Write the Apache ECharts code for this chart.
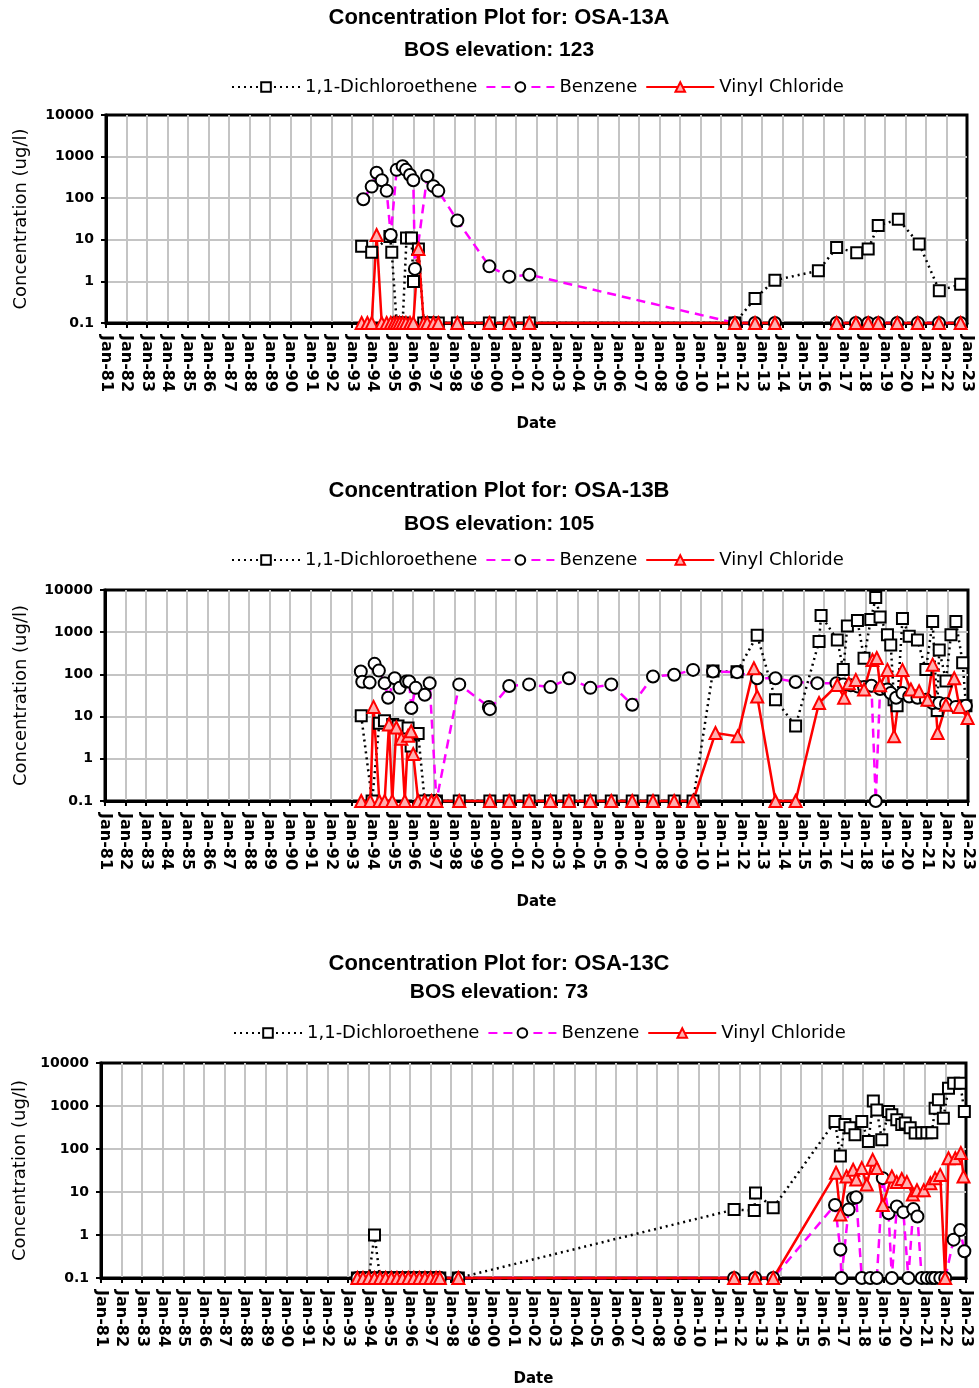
<!DOCTYPE html>
<html>
<head>
<meta charset="utf-8">
<script src="https://cdn.jsdelivr.net/npm/echarts@6/dist/echarts.min.js"></script>
<style>
  body { margin: 0; background: #fff; }
  #chart { width: 979px; height: 1388px; }
</style>
</head>
<body>
<div id="chart"></div>
<script>
// wells and elevations
const wells = ['OSA-13A', 'OSA-13B', 'OSA-13C'];
const bosElevation = [123, 105, 73];
const seriesNames = ['1,1-Dichloroethene', 'Benzene', 'Vinyl Chloride'];

// OSA-13A  [decimal year, ug/l]
const dceA = [[1993.47,7],[1993.96,5],[1994.85,12],[1994.94,5],[1995.18,0.1],[1995.32,0.1],[1995.47,0.1],[1995.66,11],[1995.9,11],[1996.0,1],[1996.24,6],[1996.5,0.1],[1996.67,0.1],[1996.97,0.1],[1997.21,0.1],[1998.14,0.1],[1999.7,0.1],[2000.67,0.1],[2001.65,0.1],[2011.68,0.1],[2012.66,0.39],[2013.63,1.07],[2015.75,1.8],[2016.64,6.5],[2017.62,4.9],[2018.18,6],[2018.67,22],[2019.65,31],[2020.67,7.9],[2021.65,0.6],[2022.69,0.85]];
const benzA = [[1993.55,94],[1993.96,190],[1994.2,410],[1994.45,270],[1994.69,150],[1994.89,13],[1995.18,480],[1995.47,590],[1995.63,480],[1995.83,360],[1995.99,270],[1996.07,2],[1996.67,340],[1996.97,195],[1997.21,150],[1998.14,29],[1999.7,2.3],[2000.67,1.3],[2001.65,1.45],[2011.68,0.1],[2012.66,0.1],[2013.63,0.1],[2015.0,null],[2016.64,0.1],[2017.58,0.1],[2018.18,0.1],[2018.67,0.1],[2019.6,0.1],[2020.6,0.1],[2021.63,0.1],[2022.69,0.1]];
const vcA = [[1993.47,0.1],[1993.75,0.1],[1993.96,0.1],[1994.2,13],[1994.45,0.1],[1994.69,0.1],[1994.89,0.1],[1995.05,0.1],[1995.18,0.1],[1995.32,0.1],[1995.47,0.1],[1995.63,0.1],[1995.83,0.1],[1995.99,0.1],[1996.24,6],[1996.5,0.1],[1996.67,0.1],[1996.97,0.1],[1997.21,0.1],[1998.14,0.1],[1999.7,0.1],[2000.67,0.1],[2001.65,0.1],[2011.68,0.1],[2012.66,0.1],[2013.63,0.1],[2015.0,null],[2016.64,0.1],[2017.58,0.1],[2018.18,0.1],[2018.67,0.1],[2019.6,0.1],[2020.6,0.1],[2021.63,0.1],[2022.69,0.1]];

// OSA-13B
const dceB = [[1993.47,10.5],[1994.0,0.1],[1994.35,7],[1994.6,8],[1995.0,6.5],[1995.26,6],[1995.75,5.4],[1995.9,2],[1996.24,4],[1996.56,0.1],[1996.89,0.1],[1997.13,0.1],[1998.24,0.1],[1999.73,0.1],[2000.67,0.1],[2001.64,0.1],[2002.68,0.1],[2003.58,0.1],[2004.62,0.1],[2005.64,0.1],[2006.66,0.1],[2007.67,0.1],[2008.7,0.1],[2009.62,0.1],[2010.59,120],[2011.76,115],[2012.74,850],[2013.63,25],[2014.61,6],[2015.75,600],[2015.85,2500],[2016.64,650],[2016.93,130],[2017.13,1400],[2017.62,1900],[2017.94,240],[2018.27,2000],[2018.51,6600],[2018.72,2300],[2019.08,870],[2019.24,500],[2019.4,25],[2019.55,18],[2019.81,2100],[2020.14,800],[2020.54,650],[2020.95,130],[2021.28,1800],[2021.5,14],[2021.6,380],[2021.93,70],[2022.17,870],[2022.41,1800],[2022.74,190],[2022.9,18]];
const benzB = [[1993.45,117],[1993.52,67],[1993.88,64],[1994.12,178],[1994.33,123],[1994.61,62],[1994.78,28],[1995.1,81],[1995.34,48],[1995.67,68],[1995.8,68],[1995.91,16],[1996.12,48],[1996.56,33],[1996.8,62],[1997.13,0.1],[1998.24,58],[1999.68,17],[1999.73,15],[2000.67,53],[2001.64,58],[2002.68,50],[2003.58,81],[2004.62,48],[2005.64,58],[2006.66,19],[2007.67,89],[2008.7,98],[2009.62,128],[2010.59,117],[2011.76,113],[2012.74,81],[2013.63,81],[2014.61,66],[2015.67,62],[2016.6,62],[2016.93,58],[2017.3,55],[2017.62,52],[2017.94,50],[2018.3,54],[2018.51,0.1],[2018.72,45],[2019.08,44],[2019.24,36],[2019.5,28],[2019.81,36],[2020.14,30],[2020.54,28],[2020.95,25],[2021.28,21],[2021.6,21],[2021.93,20],[2022.41,17],[2022.9,18]];
const vcB = [[1993.47,0.1],[1993.91,0.1],[1994.07,17],[1994.35,0.1],[1994.61,0.1],[1994.82,6.5],[1994.98,0.1],[1995.18,5.5],[1995.42,3],[1995.59,0.1],[1995.75,3.5],[1995.9,4.5],[1996.0,1.3],[1996.24,0.1],[1996.56,0.1],[1996.89,0.1],[1997.13,0.1],[1998.24,0.1],[1999.73,0.1],[2000.67,0.1],[2001.64,0.1],[2002.68,0.1],[2003.58,0.1],[2004.62,0.1],[2005.64,0.1],[2006.66,0.1],[2007.67,0.1],[2008.7,0.1],[2009.62,0.1],[2010.71,4.1],[2011.79,3.4],[2012.58,140],[2012.74,30],[2013.63,0.1],[2014.61,0.1],[2015.75,21],[2016.64,56],[2016.97,28],[2017.2,62],[2017.54,74],[2017.94,44],[2018.35,220],[2018.56,245],[2018.72,55],[2019.08,128],[2019.4,3.4],[2019.81,128],[2020.22,44],[2020.62,40],[2021.03,25],[2021.28,170],[2021.52,4.1],[2021.93,19],[2022.33,81],[2022.58,17],[2022.98,9.3]];

// OSA-13C
const dceC = [[1993.45,0.1],[1993.72,0.1],[1994.0,0.1],[1994.28,1.0],[1994.55,0.1],[1994.82,0.1],[1995.1,0.1],[1995.37,0.1],[1995.64,0.1],[1995.92,0.1],[1996.19,0.1],[1996.46,0.1],[1996.73,0.1],[1997.0,0.1],[1997.27,0.1],[1997.45,0.1],[1998.35,0.1],[2011.74,3.9],[2012.72,3.7],[2012.78,9.5],[2013.64,4.3],[2016.64,435],[2016.9,69],[2017.12,370],[2017.37,310],[2017.61,215],[2017.94,435],[2018.26,150],[2018.5,1300],[2018.67,810],[2018.91,165],[2019.24,740],[2019.4,630],[2019.64,480],[2019.88,370],[2020.05,400],[2020.29,310],[2020.53,235],[2020.85,240],[2021.1,240],[2021.34,240],[2021.5,890],[2021.66,1400],[2021.9,520],[2022.15,2600],[2022.4,3400],[2022.72,3400],[2022.92,740]];
const benzC = [[1993.45,0.1],[1993.72,0.1],[1994.0,0.1],[1994.28,0.1],[1994.55,0.1],[1994.82,0.1],[1995.1,0.1],[1995.37,0.1],[1995.64,0.1],[1995.92,0.1],[1996.19,0.1],[1996.46,0.1],[1996.73,0.1],[1997.0,0.1],[1997.27,0.1],[1997.45,0.1],[1998.35,0.1],[2011.74,0.1],[2012.76,0.1],[2013.64,0.1],[2016.64,5],[2016.9,0.46],[2016.95,0.1],[2017.3,3.9],[2017.52,7.2],[2017.67,7.5],[2017.94,0.1],[2018.35,0.1],[2018.67,0.1],[2018.96,21],[2019.24,3.2],[2019.4,0.1],[2019.64,4.6],[2019.96,3.4],[2020.2,0.1],[2020.44,4],[2020.64,2.7],[2020.85,0.1],[2021.1,0.1],[2021.34,0.1],[2021.5,0.1],[2021.75,0.1],[2021.99,0.1],[2022.4,0.78],[2022.72,1.3],[2022.92,0.42]];
const vcC = [[1993.45,0.1],[1993.72,0.1],[1994.0,0.1],[1994.28,0.1],[1994.55,0.1],[1994.82,0.1],[1995.1,0.1],[1995.37,0.1],[1995.64,0.1],[1995.92,0.1],[1996.19,0.1],[1996.46,0.1],[1996.73,0.1],[1997.0,0.1],[1997.27,0.1],[1997.45,0.1],[1998.35,0.1],[2011.74,0.1],[2012.76,0.1],[2013.64,0.1],[2016.69,28],[2016.9,3],[2017.2,23],[2017.52,33],[2017.67,19.5],[2017.94,36],[2018.18,15],[2018.47,56],[2018.67,36],[2018.96,5],[2019.4,23],[2019.64,17],[2019.88,20],[2020.13,17],[2020.42,8.7],[2020.62,11],[2020.95,11],[2021.27,16],[2021.5,21],[2021.75,25],[2021.99,0.1],[2022.15,61],[2022.48,61],[2022.75,81],[2022.88,23]];

const panelData = [[dceA, benzA, vcA], [dceB, benzB, vcB], [dceC, benzC, vcC]];

// layout of the three panels
const grids = [
  { left: 106, top: 115, width: 861, height: 208 },
  { left: 105, top: 590, width: 863, height: 211 },
  { left: 101, top: 1063, width: 865, height: 215 }
];
const titleTops = [[2, 35], [475, 509], [948, 977]];
const legendTops = [73, 546, 1019];
const legendLeft = [226, 226, 228];

const tickFont = { fontFamily: 'DejaVu Sans', fontWeight: 'bold', color: '#000' };
const gridLine = { show: true, showMinLine: false, showMaxLine: false, lineStyle: { color: '#c4c4c4', width: 2 } };

let myChart = echarts.init(document.getElementById('chart'));

let option = {
  backgroundColor: '#fff',
  animation: false,
  title: [],
  legend: [],
  grid: [],
  xAxis: [],
  yAxis: [],
  series: []
};

for (let i = 0; i < 3; i++) {
  option.title.push({
    text: 'Concentration Plot for: ' + wells[i],
    left: 494, top: titleTops[i][0], textAlign: 'center',
    textStyle: { fontFamily: 'Liberation Sans', fontWeight: 'bold', fontSize: 22, color: '#000' }
  });
  option.title.push({
    text: 'BOS elevation: ' + bosElevation[i],
    left: 494, top: titleTops[i][1], textAlign: 'center',
    textStyle: { fontFamily: 'Liberation Sans', fontWeight: 'bold', fontSize: 21, color: '#000' }
  });
  option.legend.push({
    data: seriesNames,
    left: legendLeft[i], top: legendTops[i],
    itemWidth: 68, itemHeight: 12, itemGap: 8,
    textStyle: { fontFamily: 'DejaVu Sans', fontSize: 18, color: '#000' }
  });
  option.grid.push(Object.assign({ show: true, borderColor: '#000', borderWidth: 3 }, grids[i]));
  option.xAxis.push({
    type: 'value', gridIndex: i, min: 1981, max: 2023, interval: 1,
    name: 'Date', nameLocation: 'middle', nameGap: 94,
    nameTextStyle: { fontFamily: 'DejaVu Sans', fontWeight: 'bold', fontSize: 15, color: '#000' },
    axisLine: { show: true, onZero: false, lineStyle: { color: '#000', width: 3 } },
    axisTick: { show: true, length: 5, lineStyle: { color: '#000', width: 2 } },
    axisLabel: Object.assign({
      rotate: -90, margin: 12, fontSize: 16,
      formatter: v => 'Jan-' + String(Math.round(v) % 100).padStart(2, '0')
    }, tickFont),
    splitLine: gridLine
  });
  option.yAxis.push({
    type: 'log', logBase: 10, gridIndex: i, min: 0.1, max: 10000,
    name: 'Concentration (ug/l)', nameLocation: 'middle', nameGap: grids[i].left - 30,
    nameTextStyle: { fontFamily: 'DejaVu Sans', fontSize: 18, color: '#000' },
    axisLine: { show: true, lineStyle: { color: '#000', width: 3 } },
    axisTick: { show: true, length: 5, lineStyle: { color: '#000', width: 2 } },
    axisLabel: Object.assign({
      margin: 12, fontSize: 14,
      formatter: v => (v < 1 ? v.toFixed(1) : String(Math.round(v)))
    }, tickFont),
    minorTick: { show: false },
    splitLine: gridLine
  });

  let d = panelData[i];
  option.series.push({
    name: seriesNames[0], type: 'line', xAxisIndex: i, yAxisIndex: i,
    data: d[0], clip: false, symbol: 'rect', symbolSize: 11,
    lineStyle: { color: '#000', width: 2.5, type: [2, 4] },
    itemStyle: { color: '#fff', borderColor: '#000', borderWidth: 2 }
  });
  option.series.push({
    name: seriesNames[1], type: 'line', xAxisIndex: i, yAxisIndex: i,
    data: d[1], clip: false, symbol: 'circle', symbolSize: 12,
    lineStyle: { color: '#ff00ff', width: 2.5, type: [9, 6] },
    itemStyle: { color: '#fff', borderColor: '#000', borderWidth: 2 }
  });
  option.series.push({
    name: seriesNames[2], type: 'line', xAxisIndex: i, yAxisIndex: i,
    data: d[2], clip: false, symbol: 'triangle', symbolSize: 12,
    lineStyle: { color: '#ff0000', width: 2.5 },
    itemStyle: { color: '#ffb0b0', borderColor: '#ff0000', borderWidth: 2 }
  });
}

myChart.setOption(option);
window.addEventListener('resize', function () { myChart.resize(); });
</script>
</body>
</html>
